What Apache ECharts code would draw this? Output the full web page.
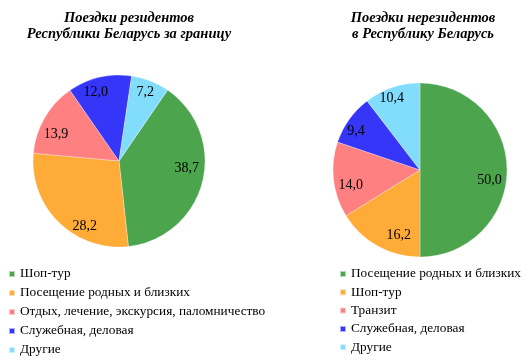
<!DOCTYPE html>
<html>
<head>
<meta charset="utf-8">
<script src="https://cdn.jsdelivr.net/npm/echarts@6/dist/echarts.min.js"></script>
<style>
html,body{margin:0;padding:0;background:#fff;}
#c{width:528px;height:362px;}
</style>
</head>
<body>
<div id="c"></div>
<script>
// Data
const titleLeft = 'Поездки резидентов\nРеспублики Беларусь за границу';
const titleRight = 'Поездки нерезидентов\nв Республику Беларусь';
const leftNames = ['Шоп-тур', 'Посещение родных и близких', 'Отдых, лечение, экскурсия, паломничество', 'Служебная, деловая', 'Другие'];
const leftValues = [38.7, 28.2, 13.9, 12.0, 7.2];
const rightNames = ['Посещение родных и близких', 'Шоп-тур', 'Транзит', 'Служебная, деловая', 'Другие'];
const rightValues = [50.0, 16.2, 14.0, 9.4, 10.4];
const sliceColors = ['#4ca44c', '#ffab38', '#ff8080', '#3636f8', '#82dcfc'];

// label nudges (style only, pixels) to mimic the original label placement
const leftLabelShift = [[-2, -10], [16, 14], [-1, 10], [-7, 1], [0, -2]];
const rightLabelShift = [[-3, 10], [14, 2], [3, 7], [-5, 4], [-5, -3]];

const font = '"Liberation Serif", "Times New Roman", serif';
const fmt = p => p.value.toFixed(1).replace('.', ',');

function mk(names, values) {
  return names.map((n, i) => ({ name: n, value: values[i], itemStyle: { color: sliceColors[i] } }));
}
function legendData(names) {
  return names.map((n, i) => ({ name: n, itemStyle: { color: sliceColors[i] } }));
}
function pieSeries(center, r, names, values, startAngle, shifts) {
  return [
    {
      type: 'pie', center: center, radius: [0, r], startAngle: startAngle, clockwise: true,
      data: mk(names, values), label: { show: false }, labelLine: { show: false },
      itemStyle: { borderColor: 'rgba(255,255,255,0.6)', borderWidth: 0.5 },
      emphasis: { disabled: true }, animation: false
    },
    {
      type: 'pie', center: center, radius: [r * 0.6, r], startAngle: startAngle, clockwise: true,
      data: names.map((n, i) => ({ name: n + ' ', value: values[i], label: { offset: shifts[i] } })),
      itemStyle: { color: 'transparent' }, silent: true, legendHoverLink: false,
      label: { show: true, position: 'inside', formatter: fmt, color: '#000', fontFamily: font, fontSize: 14 },
      labelLine: { show: false }, emphasis: { disabled: true }, animation: false
    }
  ];
}

const titleStyle = { fontFamily: font, fontSize: 14.5, fontWeight: 'bold', fontStyle: 'italic', color: '#000', lineHeight: 16, align: 'center' };
const legendText = { fontFamily: font, fontSize: 13.3, color: '#000', lineHeight: 14 };

const chart = echarts.init(document.getElementById('c'), null, { renderer: 'canvas' });
chart.setOption({
  backgroundColor: '#fff',
  animation: false,
  title: [
    { text: titleLeft, left: 124, top: 5, textAlign: 'center', textStyle: titleStyle },
    { text: titleRight, left: 418, top: 5, textAlign: 'center', textStyle: titleStyle }
  ],
  legend: [
    { orient: 'vertical', left: 8, top: 267, padding: 0, icon: 'rect', itemWidth: 6, itemHeight: 6, itemGap: 5,
      selectedMode: false, data: legendData(leftNames), textStyle: legendText },
    { orient: 'vertical', left: 339, top: 267, padding: 0, icon: 'rect', itemWidth: 6, itemHeight: 6, itemGap: 4.3,
      selectedMode: false, data: legendData(rightNames), textStyle: legendText }
  ],
  series: [].concat(
    pieSeries([119, 161], 86, leftNames, leftValues, 55.6, leftLabelShift),
    pieSeries([420, 170], 87, rightNames, rightValues, 90, rightLabelShift)
  )
});
</script>
</body>
</html>
